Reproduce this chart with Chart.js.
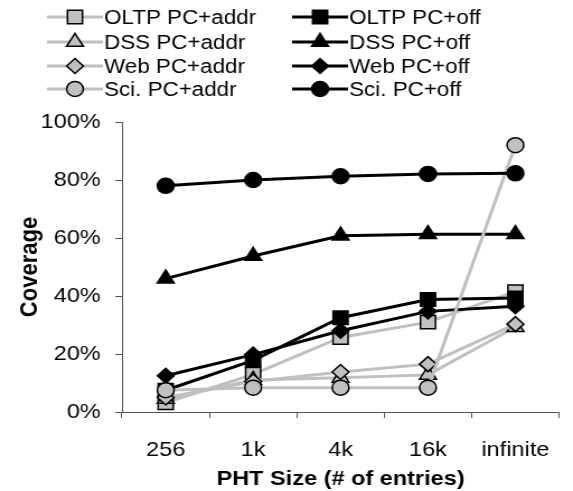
<!DOCTYPE html>
<html>
<head>
<meta charset="utf-8">
<script src="https://cdn.jsdelivr.net/npm/chart.js@4.4.1/dist/chart.umd.min.js"></script>
<style>
  html, body { margin: 0; padding: 0; background: #fff; overflow: hidden; }
  /* drawn a bit narrow, then widened to the 573px page */
  #wrap {
    position: relative; width: 512px; height: 491px;
    transform: scaleX(1.1191); transform-origin: 0 0;
  }
</style>
</head>
<body>
<div id="wrap"><canvas id="cov"></canvas></div>
<script>
'use strict';

// PHT sizes on the x axis
const sizes = ['256', '1k', '4k', '16k', 'infinite'];

// coverage (%) per workload, PC+addr vs PC+off
const oltpAddr = [3.2, 13, 25.7, 31, 41.5];
const oltpOff  = [7.5, 17.8, 32.5, 38.8, 39.3];
const dssAddr  = [4.5, 11, 11.8, 12.8, 29.3];
const dssOff   = [46, 53.8, 60.8, 61.3, 61.3];
const webAddr  = [5, 10.5, 13.8, 16.5, 30.3];
const webOff   = [12.5, 19.8, 28, 34.7, 36.5];
const sciAddr  = [7.5, 8.4, 8.4, 8.4, 92];
const sciOff   = [78, 80, 81.3, 82.1, 82.3];

const yTicks = [0, 20, 40, 60, 80, 100];

const FONT = "'Liberation Sans', Arial, sans-serif";
const GRAY = '#c0c0c0';
const AXIS = '#555555';

const SHAPES = {
  square:   { style: 'rect',     r: 9.5 },
  triangle: { style: 'triangle', r: 8.7 },
  diamond:  { style: 'rectRot',  r: 7.5 },
  circle:   { style: 'circle',   r: 7.5 }
};

function series(label, data, shape, dark) {
  const s = SHAPES[shape];
  return {
    label, data,
    borderColor: dark ? '#000' : GRAY,
    borderWidth: 3,
    pointStyle: s.style,
    pointRadius: s.r,
    pointBackgroundColor: dark ? '#000' : GRAY,
    pointBorderColor: '#000',
    pointBorderWidth: 1.5,
    tension: 0,
    fill: false
  };
}

// series order as in the legend rows; later ones sit on top
const datasets = [
  series('OLTP PC+addr', oltpAddr, 'square', false),
  series('OLTP PC+off',  oltpOff,  'square', true),
  series('DSS PC+addr',  dssAddr,  'triangle', false),
  series('DSS PC+off',   dssOff,   'triangle', true),
  series('Web PC+addr',  webAddr,  'diamond', false),
  series('Web PC+off',   webOff,   'diamond', true),
  series('Sci. PC+addr', sciAddr,  'circle', false),
  series('Sci. PC+off',  sciOff,   'circle', true)
];
datasets.forEach((d, i) => { d.order = datasets.length - i; });

// marker drawing for the legend samples
function drawMarker(ctx, style, x, y, r) {
  ctx.beginPath();
  if (style === 'circle') {
    ctx.arc(x, y, r, 0, Math.PI * 2);
  } else if (style === 'rect') {
    const h = r * Math.SQRT1_2;
    ctx.rect(x - h, y - h, 2 * h, 2 * h);
  } else if (style === 'rectRot') {
    ctx.moveTo(x - r, y); ctx.lineTo(x, y - r);
    ctx.lineTo(x + r, y); ctx.lineTo(x, y + r);
  } else if (style === 'triangle') {
    for (let k = 0; k < 3; k++) {
      const a = k * 2 * Math.PI / 3;
      const px = x + Math.sin(a) * r, py = y - Math.cos(a) * r;
      if (k === 0) ctx.moveTo(px, py); else ctx.lineTo(px, py);
    }
  }
  ctx.closePath();
  ctx.fill();
  ctx.stroke();
}

// two-column legend above the plot
const twoColLegend = {
  id: 'twoColLegend',
  afterDraw(chart) {
    const ctx = chart.ctx;
    const cols = [42, 261];
    const rowY = [17, 42, 66, 89];
    ctx.save();
    ctx.font = '20px ' + FONT;
    ctx.textBaseline = 'middle';
    ctx.textAlign = 'left';
    chart.data.datasets.forEach((ds, i) => {
      const x0 = cols[i % 2];
      const y = rowY[Math.floor(i / 2)];
      ctx.strokeStyle = ds.borderColor;
      ctx.lineWidth = 3;
      ctx.beginPath();
      ctx.moveTo(x0, y); ctx.lineTo(x0 + 50, y);
      ctx.stroke();
      ctx.fillStyle = ds.pointBackgroundColor;
      ctx.strokeStyle = '#000';
      ctx.lineWidth = 1.5;
      drawMarker(ctx, ds.pointStyle, x0 + 25, y, ds.pointRadius);
      ctx.fillStyle = '#000';
      ctx.fillText(ds.label, x0 + 51, y + 1);
    });
    ctx.restore();
  }
};

new Chart(document.getElementById('cov'), {
  type: 'line',
  data: { labels: sizes, datasets },
  plugins: [twoColLegend],
  options: {
    responsive: true,
    maintainAspectRatio: false,
    animation: false,
    layout: { padding: { top: 122, right: 1, left: 0, bottom: 0 } },
    plugins: { legend: { display: false }, tooltip: { enabled: false } },
    scales: {
      x: {
        type: 'category',
        offset: true,
        afterFit(scale) { scale.height = 79; },
        grid: {
          offset: true, drawOnChartArea: false, drawTicks: true,
          tickLength: 6, color: AXIS, lineWidth: 1
        },
        border: { display: true, color: AXIS, width: 1 },
        ticks: { color: '#000', padding: 20, font: { family: FONT, size: 21 } },
        title: {
          display: true, text: 'PHT Size (# of entries)', color: '#000',
          padding: 0, font: { family: FONT, size: 21, weight: 'bold', lineHeight: 1.1 }
        }
      },
      y: {
        min: 0, max: 100,
        afterFit(scale) { scale.width = 109; },
        afterBuildTicks(scale) { scale.ticks = yTicks.map(v => ({ value: v })); },
        grid: {
          drawOnChartArea: false, drawTicks: true,
          tickLength: 6, color: AXIS, lineWidth: 1
        },
        border: { display: true, color: AXIS, width: 1 },
        ticks: {
          color: '#000', padding: 13,
          font: { family: FONT, size: 21 },
          callback: v => v + '%'
        },
        title: {
          display: true, text: 'Coverage', color: '#000',
          padding: { top: 14, bottom: 0 },
          font: { family: FONT, size: 22, weight: 'bold' }
        }
      }
    }
  }
});
</script>
</body>
</html>
